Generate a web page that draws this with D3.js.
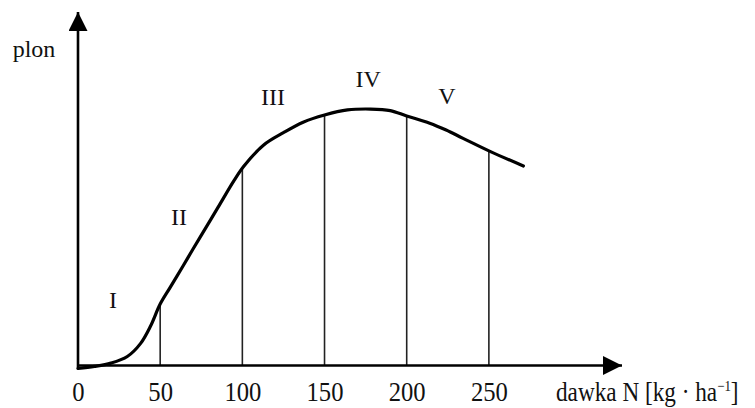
<!DOCTYPE html>
<html>
<head>
<meta charset="utf-8">
<script src="https://cdn.jsdelivr.net/npm/d3@7"></script>
<style>
  body { margin: 0; background: #fff; }
  svg text { font-family: "Liberation Serif", "DejaVu Serif", serif; fill: #111; }
</style>
</head>
<body>
<svg></svg>
<script>
// yield curve (N dose in kg/ha, yield in relative units)
const doseN = [0, 10, 20, 30, 38, 44, 50, 56, 64, 70, 78, 85, 95, 101, 113, 125, 137, 150, 164, 178, 190, 200, 214, 224, 234, 251, 271];
const yieldVal = [-1, -0.3, 0.8, 3, 7.3, 13, 20.5, 26, 33.3, 38.9, 46.2, 52.6, 61.8, 66.6, 73.6, 77.7, 81.2, 83.6, 85.3, 85.6, 85.1, 83.3, 80.9, 78.6, 75.9, 71.4, 66.6];

// boundaries between the phases
const phaseBounds = [50, 100, 150, 200, 250];
const phaseTops = [20.8, 66.2, 83.6, 83.3, 71.3];

// phase labels
const phaseNames = ['I', 'II', 'III', 'IV', 'V'];
const phaseLabelN = [21.3, 61.5, 118.7, 176.5, 224.5];
const phaseLabelY = [21.7, 49.5, 89.6, 95.7, 90];

const tickValues = [0, 50, 100, 150, 200, 250];

const size = {w: 755, h: 408};
const svg = d3.select('svg')
    .attr('width', size.w)
    .attr('height', size.h);

const x = d3.scaleLinear().domain([0, 331]).range([78, 622]);
const y = d3.scaleLinear().domain([0, 118]).range([365.5, 12]);

//arrow heads
const defs = svg.append('defs');
defs.append('marker')
    .attr('id', 'arrow')
    .attr('viewBox', '0 0 19 19')
    .attr('refX', 19)
    .attr('refY', 9.5)
    .attr('markerWidth', 19)
    .attr('markerHeight', 19)
    .attr('markerUnits', 'userSpaceOnUse')
    .attr('orient', 'auto')
    .append('path')
    .attr('d', 'M0,0 L19,9.5 L0,19 Z')
    .attr('fill', '#000');

//vertical phase lines
svg.append('g').selectAll('line')
    .data(phaseBounds)
    .enter()
    .append('line')
    .attr('x1', d => x(d))
    .attr('x2', d => x(d))
    .attr('y1', y(0))
    .attr('y2', (d, i) => y(phaseTops[i]))
    .attr('stroke', '#222')
    .attr('stroke-width', 1.6);

//axes
svg.append('line')
    .attr('x1', x(0)).attr('x2', x(0))
    .attr('y1', y(-1)).attr('y2', y(118))
    .attr('stroke', '#000').attr('stroke-width', 2.6)
    .attr('marker-end', 'url(#arrow)');

svg.append('line')
    .attr('x1', x(0)).attr('x2', x(331))
    .attr('y1', y(0)).attr('y2', y(0))
    .attr('stroke', '#000').attr('stroke-width', 2.6)
    .attr('marker-end', 'url(#arrow)');

//yield curve
const pts = doseN.map((d, i) => [d, yieldVal[i]]);
const line = d3.line()
    .x(d => x(d[0]))
    .y(d => y(d[1]))
    .curve(d3.curveCatmullRom.alpha(0.5));

svg.append('path')
    .datum(pts)
    .attr('d', line)
    .attr('fill', 'none')
    .attr('stroke', '#000')
    .attr('stroke-width', 3.2)
    .attr('stroke-linecap', 'round');

//tick labels
const xAxis = d3.axisBottom(x).tickValues(tickValues).tickSize(0).tickFormat(d3.format('d'));
const axisG = svg.append('g')
    .attr('transform', `translate(0,${y(0)})`)
    .call(xAxis);
axisG.select('.domain').remove();
axisG.selectAll('text')
    .attr('y', 36)
    .attr('dy', 0)
    .attr('fill', '#111')
    .style('font-family', '"Liberation Serif", serif')
    .style('font-size', '28px')
    .attr('transform', 'scale(0.88,1)');

//phase labels
svg.append('g').selectAll('text')
    .data(phaseNames)
    .enter()
    .append('text')
    .attr('x', (d, i) => x(phaseLabelN[i]))
    .attr('y', (d, i) => y(phaseLabelY[i]) + 8)
    .attr('text-anchor', 'middle')
    .style('font-size', '24px')
    .text(d => d);

//axis titles
svg.append('text')
    .attr('x', 34)
    .attr('y', 57)
    .attr('text-anchor', 'middle')
    .style('font-size', '24px')
    .text('plon');

const xTitle = svg.append('text')
    .attr('transform', 'translate(556,401) scale(0.86,1)')
    .style('font-size', '27px');
xTitle.append('tspan').text('dawka N [kg · ha');
xTitle.append('tspan')
    .attr('dy', -10)
    .style('font-size', '15px')
    .text('−1');
xTitle.append('tspan')
    .attr('dy', 10)
    .text(']');
</script>
</body>
</html>
